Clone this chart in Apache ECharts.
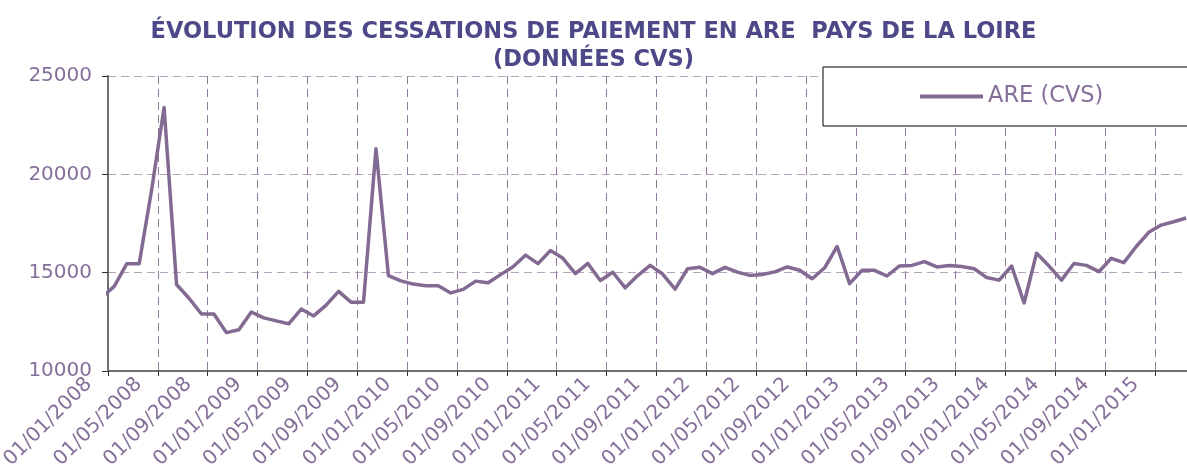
<!DOCTYPE html>
<html>
<head>
<meta charset="utf-8">
<script src="https://cdn.jsdelivr.net/npm/echarts@6/dist/echarts.min.js"></script>
<style>
  html, body { margin: 0; padding: 0; background: #ffffff; }
  #chart { width: 1187px; height: 466px; }
</style>
</head>
<body>
<div id="chart"></div>
<script>
// ---- Data ----
const titleText = 'ÉVOLUTION DES CESSATIONS DE PAIEMENT EN ARE  PAYS DE LA LOIRE\n(DONNÉES CVS)';
const seriesName = 'ARE (CVS)';

const months = [
  '12/2007',
  '01/2008','02/2008','03/2008','04/2008','05/2008','06/2008','07/2008','08/2008','09/2008','10/2008','11/2008','12/2008',
  '01/2009','02/2009','03/2009','04/2009','05/2009','06/2009','07/2009','08/2009','09/2009','10/2009','11/2009','12/2009',
  '01/2010','02/2010','03/2010','04/2010','05/2010','06/2010','07/2010','08/2010','09/2010','10/2010','11/2010','12/2010',
  '01/2011','02/2011','03/2011','04/2011','05/2011','06/2011','07/2011','08/2011','09/2011','10/2011','11/2011','12/2011',
  '01/2012','02/2012','03/2012','04/2012','05/2012','06/2012','07/2012','08/2012','09/2012','10/2012','11/2012','12/2012',
  '01/2013','02/2013','03/2013','04/2013','05/2013','06/2013','07/2013','08/2013','09/2013','10/2013','11/2013','12/2013',
  '01/2014','02/2014','03/2014','04/2014','05/2014','06/2014','07/2014','08/2014','09/2014','10/2014','11/2014','12/2014',
  '01/2015','02/2015','03/2015'
];

const values = [
  13750,
  14300, 15450, 15450, 19200, 23400, 14400, 13700, 12900, 12900, 11950, 12100, 13000,
  12700, 12550, 12400, 13150, 12800, 13350, 14050, 13500, 13500, 21300, 14850, 14580,
  14420, 14330, 14330, 13970, 14150, 14570, 14490, 14900, 15300, 15890, 15460, 16130,
  15730, 14950, 15470, 14600, 15020, 14230, 14850, 15370, 14930, 14160, 15200, 15270,
  14950, 15270, 15030, 14860, 14910, 15040, 15290, 15120, 14690, 15250, 16330, 14440,
  15120, 15120, 14830, 15340, 15370, 15560, 15290, 15370, 15310, 15200, 14750, 14620,
  15340, 13460, 15990, 15340, 14620, 15470, 15370, 15050, 15730, 15510, 16330, 17050,
  17420, 17590, 17780
];

const tickLabels = [
  '01/01/2008','01/05/2008','01/09/2008',
  '01/01/2009','01/05/2009','01/09/2009',
  '01/01/2010','01/05/2010','01/09/2010',
  '01/01/2011','01/05/2011','01/09/2011',
  '01/01/2012','01/05/2012','01/09/2012',
  '01/01/2013','01/05/2013','01/09/2013',
  '01/01/2014','01/05/2014','01/09/2014',
  '01/01/2015'
];

const yTicks = [10000, 15000, 20000, 25000];

// ---- Build ----
// x = months since 01/01/2008; each monthly value sits at mid-month.
function monthPos(s) {
  const [m, y] = s.split('/').map(Number);
  return (y - 2008) * 12 + (m - 1) + 0.5;
}
const lineData = months.map((m, k) => [monthPos(m), values[k]]);

const FONT = 'DejaVu Sans';
const LABEL_COLOR = '#85709a';

const chart = echarts.init(document.getElementById('chart'), null, { renderer: 'canvas' });
chart.setOption({
  animation: false,
  backgroundColor: '#ffffff',
  title: {
    text: titleText,
    left: 'center',
    top: 13,
    textStyle: {
      fontFamily: FONT,
      fontWeight: 'bold',
      fontSize: 22.5,
      lineHeight: 28,
      color: '#4d4888'
    }
  },
  legend: {
    data: [{ name: seriesName, icon: 'rect' }],
    left: 823,
    top: 67,
    padding: [18, 90, 18, 97],
    itemWidth: 63,
    itemHeight: 4,
    itemGap: 5,
    borderColor: '#000000',
    borderWidth: 1,
    backgroundColor: '#ffffff',
    textStyle: { fontFamily: FONT, fontSize: 22.5, color: LABEL_COLOR }
  },
  grid: { left: 108, right: 0, top: 76, bottom: 95, containLabel: false, outerBoundsMode: 'none' },
  xAxis: {
    type: 'value',
    min: 0,
    max: 86.57,
    interval: 4,
    axisLine: { show: true, lineStyle: { color: '#707070', width: 2 } },
    axisTick: { show: true, length: 5, lineStyle: { color: '#303030', width: 1 } },
    axisLabel: {
      rotate: 45,
      margin: -9,
      padding: [0, 27, 0, 0],
      fontFamily: FONT,
      fontSize: 20,
      color: LABEL_COLOR,
      showMaxLabel: false,
      formatter: function (v) {
        return v % 4 === 0 && tickLabels[v / 4] ? tickLabels[v / 4] : '';
      }
    },
    splitLine: { show: true, lineStyle: { color: '#8f7a9b', width: 1, type: [8, 5] } }
  },
  yAxis: {
    type: 'value',
    min: yTicks[0],
    max: yTicks[yTicks.length - 1],
    interval: yTicks[1] - yTicks[0],
    axisLine: { show: true, lineStyle: { color: '#707070', width: 2 } },
    axisTick: { show: true, length: 6, lineStyle: { color: '#303030', width: 1 } },
    axisLabel: {
      margin: 16, fontFamily: FONT, fontSize: 20, color: LABEL_COLOR,
      formatter: function (v) { return String(v); }
    },
    splitLine: { show: true, lineStyle: { color: '#b3a2bb', width: 1.2, type: [8, 5] } }
  },
  series: [{
    name: seriesName,
    type: 'line',
    data: lineData,
    symbol: 'none',
    clip: true,
    lineStyle: { color: '#836a92', width: 3.5, join: 'round' },
    itemStyle: { color: '#836a92' }
  }]
});
</script>
</body>
</html>
